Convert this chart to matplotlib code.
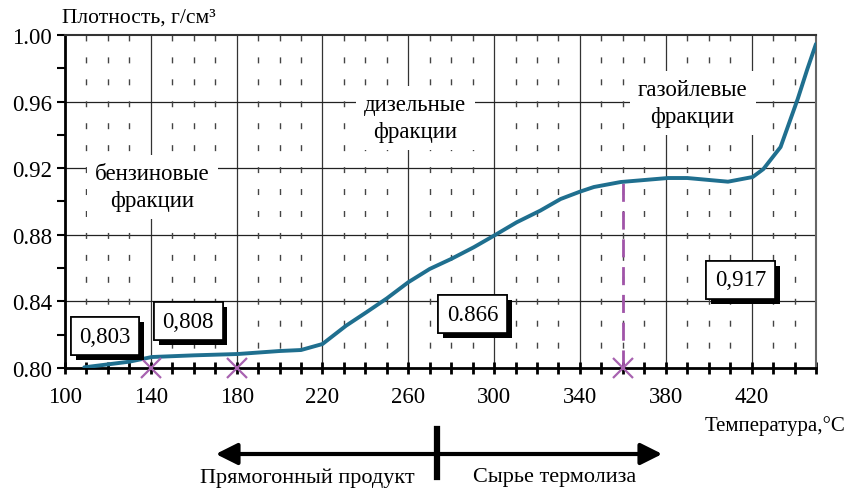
import matplotlib
matplotlib.use("Agg")
import matplotlib.pyplot as plt
import matplotlib.patheffects as pe
from matplotlib.ticker import MultipleLocator, FixedLocator

plt.rcParams['font.family'] = ['Liberation Serif', 'DejaVu Serif']

# Кривая плотности
temps = [109, 130, 140.5, 160, 180.5, 200, 210, 220, 231, 240.5, 250, 260,
         270, 280, 290.5, 300.5, 310.5, 321.5, 331, 340, 346.5, 359, 381, 390,
         409, 420.5, 425.5, 433.5, 441.5, 446, 450]
density = [0.8004, 0.8038, 0.8066, 0.8076, 0.8084, 0.8102, 0.8108, 0.8144,
           0.8254, 0.8335, 0.8418, 0.8515, 0.8595, 0.8655, 0.8725, 0.8799,
           0.8875, 0.8945, 0.9015, 0.9059, 0.9087, 0.9117, 0.9141, 0.9141,
           0.9119, 0.9147, 0.9195, 0.9327, 0.9616, 0.9796, 0.9946]

# Точки отбора фракций
cut_temps = [140, 180, 360]
cut_level = 0.80
split_temp = 360
split_density = 0.911

x_ticks = [100, 140, 180, 220, 260, 300, 340, 380, 420]

value_labels = ["0,803", "0,808", "0.866", "0,917"]
value_pos = [(118.7, 0.8192), (157.4, 0.8282), (289.9, 0.8324), (414.9, 0.8529)]

region_labels = ["бензиновые\nфракции", "дизельные\nфракции", "газойлевые\nфракции"]
region_pos = [(140.6, 0.9087), (263.3, 0.9502), (392.5, 0.9592)]

fig = plt.figure(figsize=(8.46, 4.89), dpi=100)
ax = fig.add_axes([0.0768, 0.2454, 0.8877, 0.681])

ax.set_xlim(100, 450)
ax.set_ylim(0.80, 1.00)

ax.xaxis.set_major_locator(FixedLocator(x_ticks))
ax.xaxis.set_minor_locator(MultipleLocator(10))
ax.yaxis.set_major_locator(MultipleLocator(0.04))
ax.yaxis.set_minor_locator(MultipleLocator(0.02))

# Сетка
for x in x_ticks[1:]:
    ax.axvline(x, color='#333333', lw=0.9, zorder=1)
for y in [0.84, 0.88, 0.92, 0.96]:
    ax.axhline(y, color='#222222', lw=0.9, zorder=1)
for x in range(110, 450, 10):
    if (x - 100) % 40 != 0:
        ax.axvline(x, color='#444444', lw=1.0, ls=(1.5, (4.3, 11.5)), zorder=1)

ax.yaxis.set_major_formatter(plt.FuncFormatter(lambda v, p: f"{v:.2f}"))
ax.tick_params(axis='both', which='major', labelsize=16.5)
ax.tick_params(axis='y', which='both', direction='out', length=6, width=1.5)
ax.tick_params(axis='x', which='both', direction='inout', length=8, width=2)
ax.tick_params(axis='x', which='major', pad=9)

for s in ['left', 'bottom']:
    ax.spines[s].set_linewidth(2)
    ax.spines[s].set_color('black')
ax.spines['top'].set_color('#333333')
ax.spines['top'].set_linewidth(1.5)
ax.spines['right'].set_color('#666666')
ax.spines['right'].set_linewidth(1.5)

# Кривая
ax.plot(temps, density, color='#1f6f8f', lw=2.8, zorder=4,
        solid_capstyle='round', solid_joinstyle='round')

# Вертикальная пунктирная линия и маркеры
ax.plot([split_temp, split_temp], [cut_level, split_density], color='#a054a8',
        lw=2, ls=(0, (6.5, 3.5)), zorder=3)
ax.plot(cut_temps, [cut_level] * len(cut_temps), ls='none', marker='x',
        ms=15, mew=1.6, color='#a862b0', zorder=5, clip_on=False)

# Подписи областей
for txt, (x, y) in zip(region_labels, region_pos):
    ax.text(x, y, txt, ha='center', va='center', fontsize=16.5, linespacing=1.35,
            zorder=3, bbox=dict(facecolor='white', edgecolor='none', pad=6))

# Значения плотности с тенью
for txt, (x, y) in zip(value_labels, value_pos):
    t = ax.text(x, y, txt, ha='center', va='center', fontsize=16.5, zorder=6,
                bbox=dict(boxstyle='square,pad=0.38', facecolor='white',
                          edgecolor='black', lw=1.2))
    t.get_bbox_patch().set_path_effects([
        pe.withSimplePatchShadow(offset=(3.5, -3.5), shadow_rgbFace='black', alpha=1.0),
        pe.Normal()])

# Подписи осей
fig.text(62 / 846, 1 - 18 / 489, "Плотность, г/см³", fontsize=15.5,
         ha='left', va='center')
fig.text(845 / 846, 1 - 426 / 489, "Температура,°С", fontsize=15,
         ha='right', va='center')

# Стрелка снизу
ay = 1 - 455 / 489
fig.patches.append(matplotlib.patches.FancyArrowPatch(
    (213 / 846, ay), (665 / 846, ay), transform=fig.transFigure,
    arrowstyle='<|-|>,head_length=13,head_width=6.5', mutation_scale=1,
    color='black', lw=3))
fig.add_artist(plt.Line2D([437 / 846, 437 / 846], [1 - 430 / 489, 1 - 478 / 489],
                          transform=fig.transFigure, color='black', lw=4.5))
fig.text(307 / 846, 1 - 478 / 489, "Прямогонный продукт", fontsize=16,
         ha='center', va='center')
fig.text(555 / 846, 1 - 478 / 489, "Сырье термолиза", fontsize=16,
         ha='center', va='center')

fig.savefig("out.png", dpi=100)
